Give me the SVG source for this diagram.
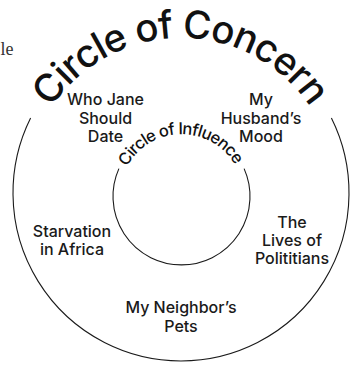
<svg xmlns="http://www.w3.org/2000/svg" width="351" height="369" viewBox="0 0 351 369">
<style>
.ring{fill:none;stroke:#1a1a1a;stroke-width:1.1}
.lbl{font-family:Inter,"Open Sans","DejaVu Sans",sans-serif;font-size:16px;font-weight:500;fill:#1a1a1a;text-anchor:middle}
.big{font-family:Inter,"Open Sans","DejaVu Sans",sans-serif;font-size:38.5px;font-weight:500;fill:#111}
.mid{font-family:Inter,"Open Sans","DejaVu Sans",sans-serif;font-size:16.5px;font-weight:500;fill:#111}
</style>
<defs>
<path id="outerTextPath" d="M 35.3 140 A 155 155 0 0 1 326.7 140"/>
<path id="innerTextPath" d="M 120.4 185.7 A 62 62 0 0 1 242.6 185.7"/>
</defs>
<rect width="351" height="369" fill="#fff"/>
<text x="0.5" y="55" font-family="'Liberation Serif',serif" font-size="18" fill="#333">le</text>
<g id="connectors"></g>
<g id="circle-of-concern">
<path class="ring" d="M 30.6 118.1 A 168 168 0 1 0 331.4 118.1"/>
<text class="big"><textPath href="#outerTextPath" startOffset="36" textLength="306" lengthAdjust="spacing">Circle of Concern</textPath></text>
</g>
<g id="circle-of-influence">
<path class="ring" d="M 118.9 168.6 A 68.5 68.5 0 1 0 244.1 168.6"/>
<text class="mid"><textPath href="#innerTextPath" startOffset="20" textLength="131.5" lengthAdjust="spacing">Circle of Influence</textPath></text>
</g>
<g id="who-jane">
<text class="lbl" x="105.5" y="105">Who Jane</text>
<text class="lbl" x="105.5" y="123.5">Should</text>
<text class="lbl" x="105.5" y="142">Date</text>
</g>
<g id="husbands-mood">
<text class="lbl" x="261" y="105">My</text>
<text class="lbl" x="261" y="123.5">Husband’s</text>
<text class="lbl" x="261" y="142">Mood</text>
</g>
<g id="starvation">
<text class="lbl" x="72" y="237">Starvation</text>
<text class="lbl" x="72" y="255">in Africa</text>
</g>
<g id="politicians">
<text class="lbl" x="292" y="228">The</text>
<text class="lbl" x="292" y="246">Lives of</text>
<text class="lbl" x="292" y="264">Polititians</text>
</g>
<g id="neighbors-pets">
<text class="lbl" x="181" y="313">My Neighbor’s</text>
<text class="lbl" x="181" y="332">Pets</text>
</g>
</svg>
